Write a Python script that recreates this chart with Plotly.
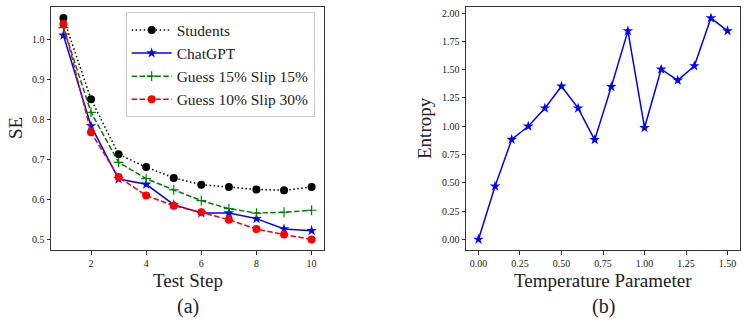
import plotly.graph_objects as go

# panel (a)
steps = [1, 2, 3, 4, 5, 6, 7, 8, 9, 10]
students = [1.054, 0.851, 0.713, 0.681, 0.654, 0.637, 0.631, 0.625, 0.623, 0.631]
chatgpt = [1.011, 0.784, 0.651, 0.638, 0.587, 0.566, 0.566, 0.552, 0.526, 0.522]
guess15 = [1.030, 0.818, 0.693, 0.652, 0.624, 0.597, 0.577, 0.566, 0.568, 0.573]
guess10 = [1.039, 0.768, 0.656, 0.610, 0.584, 0.568, 0.549, 0.526, 0.512, 0.500]

# panel (b)
temperature = [0.0, 0.1, 0.2, 0.3, 0.4, 0.5, 0.6, 0.7, 0.8, 0.9, 1.0, 1.1, 1.2, 1.3, 1.4, 1.5]
entropy = [0.0, 0.47, 0.883, 1.0, 1.16, 1.353, 1.16, 0.88, 1.35, 1.843, 0.987, 1.504, 1.406, 1.533, 1.956, 1.843]

serif = "Liberation Serif"
fig = go.Figure()

fig.add_trace(go.Scatter(x=steps, y=students, name="Students", mode="lines+markers",
                         line=dict(color="black", width=1.5, dash="1.5px,2.5px"),
                         marker=dict(symbol="circle", size=8, color="black"),
                         xaxis="x", yaxis="y"))
fig.add_trace(go.Scatter(x=steps, y=chatgpt, name="ChatGPT", mode="lines+markers",
                         line=dict(color="#0000ff", width=1.5),
                         marker=dict(symbol="star", size=8, color="#0000ff"),
                         xaxis="x", yaxis="y"))
fig.add_trace(go.Scatter(x=steps, y=guess15, name="Guess 15% Slip 15%", mode="lines+markers",
                         line=dict(color="#008000", width=1.5, dash="5.5px,2.4px"),
                         marker=dict(symbol="cross-thin-open", size=7,
                                     line=dict(color="#008000", width=1.2)),
                         xaxis="x", yaxis="y"))
fig.add_trace(go.Scatter(x=steps, y=guess10, name="Guess 10% Slip 30%", mode="lines+markers",
                         line=dict(color="#ff0000", width=1.5, dash="5.5px,2.4px"),
                         marker=dict(symbol="circle", size=8, color="#ff0000"),
                         xaxis="x", yaxis="y"))

fig.add_trace(go.Scatter(x=temperature, y=entropy, mode="lines+markers", showlegend=False,
                         line=dict(color="#0000ff", width=1.5),
                         marker=dict(symbol="star", size=8, color="#0000ff"),
                         xaxis="x2", yaxis="y2"))

ax = dict(showgrid=False, zeroline=False, showline=True, mirror=True, automargin=False,
          linecolor="#333333", linewidth=1, ticks="outside", ticklen=3.5,
          tickcolor="#333333", tickfont=dict(family=serif, size=10, color="#222"))

fig.update_layout(
    width=748, height=324,
    margin=dict(l=0, r=0, t=0, b=0),
    paper_bgcolor="white", plot_bgcolor="white",
    font=dict(family=serif, color="#222"),
    xaxis=dict(ax, domain=[0.0682, 0.4332], range=[0.55, 10.45], tickvals=[2, 4, 6, 8, 10]),
    yaxis=dict(ax, domain=[0.2269, 0.9784], range=[0.4723, 1.0817],
               tickvals=[0.5, 0.6, 0.7, 0.8, 0.9, 1.0], tickformat=".1f"),
    xaxis2=dict(ax, domain=[0.623, 0.9893], range=[-0.075, 1.575],
                tickvals=[0, 0.25, 0.5, 0.75, 1.0, 1.25, 1.5], tickformat=".2f", anchor="y2"),
    yaxis2=dict(ax, domain=[0.2269, 0.9784], range=[-0.0978, 2.054],
                tickvals=[0, 0.25, 0.5, 0.75, 1.0, 1.25, 1.5, 1.75, 2.0], tickformat=".2f",
                anchor="x2"),
    legend=dict(x=0.168, y=0.962, xanchor="left", yanchor="top",
                bgcolor="white", bordercolor="#cccccc", borderwidth=1,
                font=dict(family=serif, size=15.5, color="#222"),
                tracegroupgap=0, itemwidth=40),
    showlegend=True,
)

labels = [
    ("Test Step", 187.5, 280, 0, 19),
    ("(a)", 187.5, 306, 0, 20),
    ("SE", 15, 128, -90, 19),
    ("Temperature Parameter", 603, 280, 0, 19),
    ("(b)", 603, 306, 0, 20),
    ("Entropy", 424, 128, -90, 19),
]
for text, px, py, ang, size in labels:
    fig.add_annotation(text=text, x=px / 748, y=1 - py / 324, xref="paper", yref="paper",
                       showarrow=False, textangle=ang, xanchor="center", yanchor="middle",
                       font=dict(family=serif, size=size, color="#222"))

# page body has an 8px default margin; drop it so the figure sits at 0,0
fig.write_html("out.html", config={"displayModeBar": False},
               post_script="document.body.style.margin='0';")
